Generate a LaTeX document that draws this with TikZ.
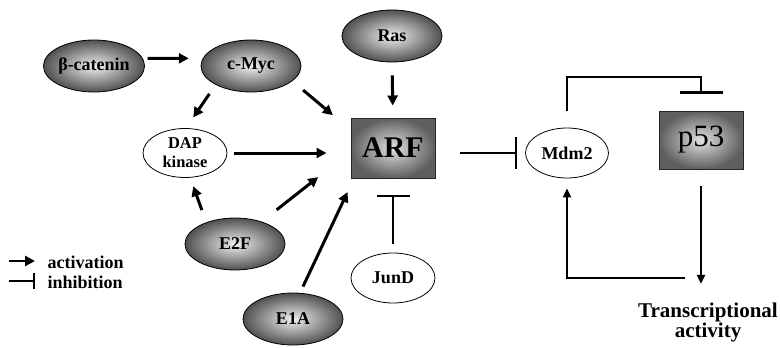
\documentclass[tikz,border=0pt]{standalone}
\usepackage{fontspec}
\setmainfont{Liberation Serif}
\usepackage{tikz}
\usetikzlibrary{arrows.meta,shapes.geometric,calc}
\definecolor{shadedark}{RGB}{80,80,80}
\definecolor{shadelight}{RGB}{240,240,240}
\definecolor{boxdark}{RGB}{95,95,95}
\definecolor{boxlight}{RGB}{225,225,225}

\tikzset{
  darknode/.style={ellipse,draw=black,line width=0.8pt,inner color=shadelight,outer color=shadedark,
    minimum width=100pt,minimum height=52pt,inner sep=0pt,font=\fontsize{18}{19}\selectfont\bfseries},
  lightnode/.style={ellipse,draw=black,line width=0.8pt,fill=white,
    minimum width=84pt,minimum height=49pt,inner sep=0pt,font=\fontsize{18}{19}\selectfont\bfseries},
  genebox/.style={rectangle,draw=black!85,line width=1pt,inner color=boxlight,outer color=boxdark,
    minimum width=84pt,minimum height=60pt,inner sep=0pt},
  legendtext/.style={anchor=west,font=\fontsize{18}{19}\selectfont\bfseries},
  act/.style={-{Triangle[length=10pt,width=10pt]},line width=3pt},
  actthin/.style={-{Triangle[length=9pt,width=8pt]},line width=2pt},
  inh/.style={-{Bar[width=32pt,line width=2.5pt]},line width=2pt},
}

\begin{document}
\begin{tikzpicture}[x=1pt,y=-1pt]
  \useasboundingbox (0,0) rectangle (780,348);
  % upstream regulators
  \node[darknode] (bcat) at (94,66) {β-catenin};
  \node[darknode] (cmyc) at (251,66) {c-Myc};
  \node[darknode] (ras) at (392,36) {Ras};
  \node[darknode] (e2f) at (235,244) {E2F};
  \node[darknode] (e1a) at (293,319) {E1A};
  \node[lightnode,align=center,font=\fontsize{16.5}{19}\selectfont\bfseries] (dap) at (185,153) {DAP\\kinase};
  \node[lightnode,minimum width=83pt,minimum height=50pt] (mdm2) at (567,153) {Mdm2};
  \node[lightnode,minimum height=50pt] (jund) at (393,278) {JunD};
  % ARF and p53 boxes
  \node[genebox,font=\fontsize{30}{32}\selectfont\bfseries] (arf) at (393,148) {ARF};
  \node[genebox,minimum height=58pt,font=\fontsize{31}{32}\selectfont] (p53) at (701,140) {p53};
  \node[align=center,font=\fontsize{21}{18}\selectfont\bfseries] (trans) at (708,322) {Transcriptional\\activity};

  % activations towards ARF
  \draw[act,shorten <=5pt,shorten >=14pt] (bcat.9) -- (cmyc.171);
  \draw[act,shorten <=11pt,shorten >=13pt] (cmyc.208) -- (dap.88);
  \draw[act,shorten <=14pt,shorten >=23pt] (cmyc.340) -- (arf.157);
  \draw[act,shorten <=13pt,shorten >=12pt] (ras.south) -- (arf.north);
  \draw[act,shorten <=7pt,shorten >=24pt] (dap.east) -- (dap.east -| arf.west);
  \draw[act,shorten <=13pt,shorten >=9pt] (e2f.143) -- (dap.282);
  \draw[act,shorten <=19pt,shorten >=41pt] (e2f.40) -- (arf.185);
  \draw[act,shorten <=7pt,shorten >=15pt] (e1a.75) -- (arf.218);
  % inhibitions
  \draw[inh,-{Bar[width=33pt,line width=2.5pt]},shorten <=9pt,shorten >=16pt] (jund.north) -- (arf.south);
  \draw[inh,shorten <=24pt,shorten >=8pt] (mdm2.west -| arf.east) -- (mdm2.west);
  \draw[inh,-{Bar[width=43pt,line width=2.5pt]},shorten <=17pt,shorten >=17pt]
    (mdm2.north) -- ++(0,-51) -| (p53.north);
  % p53 feedback loop
  \draw[actthin,shorten <=16pt,shorten >=15pt] (p53.south) -- (p53.south |- trans.north);
  \coordinate (loop) at (685,278);
  \draw[actthin,shorten >=10pt] (loop) -| (mdm2.south);

  % legend
  \node[legendtext] (lact) at (44,262) {activation};
  \node[legendtext] (linh) at (44,282) {inhibition};
  \coordinate (lacts) at (9,261);
  \coordinate (linhs) at (9,281);
  \draw[act,line width=2.5pt,shorten >=9pt] (lacts) -- (lacts -| lact.west);
  \draw[inh,-{Bar[width=16pt,line width=2.5pt]},shorten >=9pt] (linhs) -- (linhs -| linh.west);
\end{tikzpicture}
\end{document}
